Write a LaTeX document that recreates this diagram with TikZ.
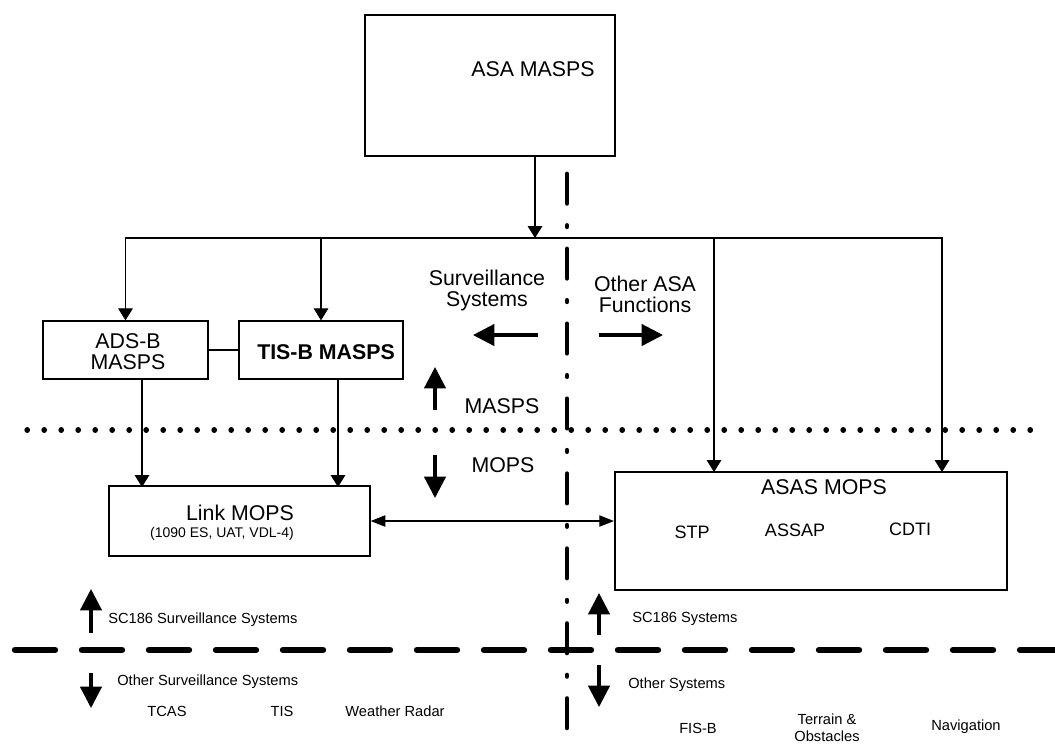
\documentclass[tikz,border=0pt]{standalone}
\usepackage{fontspec}
\setmainfont{Liberation Sans}
\usetikzlibrary{arrows.meta}
\tikzset{
  boxnode/.style={draw, line width=1pt, inner sep=0pt},
  conn/.style={line width=0.8pt, -{Triangle[width=11pt,length=9pt]}},
  dconn/.style={line width=0.8pt, {Triangle[width=8.5pt,length=11pt]}-{Triangle[width=8.5pt,length=11pt]}},
  bigarrow/.style={line width=2.4pt, -{Triangle[width=16pt,length=16pt]}},
  biglabel/.style={font=\fontsize{16}{15.75}\selectfont, align=center, inner sep=0pt},
  midlabel/.style={font=\fontsize{13.5}{15}\selectfont, inner sep=0pt},
  smalllabel/.style={font=\fontsize{11}{12.75}\selectfont, align=center, inner sep=0pt},
}
\begin{document}
\begin{tikzpicture}[x=0.75pt,y=-0.75pt]
\useasboundingbox (0,0) rectangle (1055,744);
\fill[white] (0,0) rectangle (1055,744);

% separator lines
\draw[line width=3.6pt, line cap=round, dash pattern=on 22pt off 16.6pt on 1pt off 16.6pt] (567,174) -- (567,744);
\draw[line width=4pt, line cap=round, dash pattern=on 0.3pt off 12.45pt] (27,430) -- (1035,430);
\draw[line width=4.8pt, line cap=round, dash pattern=on 30pt off 20.25pt] (15,650) -- (1055,650);

% boxes
\node[boxnode, minimum width=187.5pt, minimum height=105.75pt] (asa) at (490,85.5) {};
\node[biglabel] (asat) at (533,69) {ASA MASPS};
\node[boxnode, minimum width=123.75pt, minimum height=43.5pt] (adsb) at (125.5,350) {};
\node[biglabel, font=\fontsize{16}{15.75}\selectfont] (adsbt) at (128,352) {ADS-B\\MASPS};
\node[boxnode, minimum width=123pt, minimum height=43.5pt] (tisb) at (321,350) {};
\node[biglabel, font=\fontsize{16}{16}\selectfont\bfseries] (tisbt) at (326,352) {TIS-B MASPS};
\node[boxnode, minimum width=195.75pt, minimum height=52.5pt] (link) at (239.5,521) {};
\node[biglabel] (linkt) at (240,513) {Link MOPS};
\node[inner sep=0pt, font=\fontsize{10.5}{12}\selectfont] (links) at (222,534) {(1090 ES, UAT, VDL-4)};
\node[boxnode, line width=1.6pt, minimum width=294pt, minimum height=88.5pt] (asas) at (811,531) {};
\node[biglabel] (asast) at (824,487) {ASAS MOPS};
\node[midlabel] (stp) at (692,532) {STP};
\node[midlabel] (assap) at (795,530) {ASSAP};
\node[midlabel] (cdti) at (910,529) {CDTI};

% connectors
\coordinate (bus) at (535,238);
\coordinate (s1) at (714,472);
\coordinate (s2) at (942,472);
\coordinate (l1) at (142,487);
\coordinate (l2) at (338,487);
\draw[conn] (asa.south -| bus) -- (bus);
\draw[conn] (bus) -| (adsb.north);
\draw[conn] (bus) -| (tisb.north);
\draw[conn] (bus) -| (s1);
\draw[conn] (bus) -| (s2);
\draw[line width=0.8pt] (adsb.east) -- (adsb.east -| tisb.west);
\draw[conn] (adsb.south -| l1) -- (l1);
\draw[conn] (tisb.south -| l2) -- (l2);
\draw[dconn] (link.east) -- (link.east -| asas.west);

% middle labels and arrows
\node[biglabel] (surv) at (487,290) {Surveillance\\Systems};
\node[biglabel] (other) at (645,294) {Other ASA\\Functions};
\coordinate (la1) at (538,335); \coordinate (la2) at (473,335);
\coordinate (ra1) at (599,335); \coordinate (ra2) at (663,335);
\draw[bigarrow] (la1) -- (la2);
\draw[bigarrow] (ra1) -- (ra2);
\coordinate (ua1) at (435,410); \coordinate (ua2) at (435,367);
\coordinate (da1) at (435,455); \coordinate (da2) at (435,498);
\draw[bigarrow] (ua1) -- (ua2);
\draw[bigarrow] (da1) -- (da2);
\node[biglabel] (masps) at (502,406) {MASPS};
\node[biglabel] (mops) at (503,465) {MOPS};

% bottom left
\coordinate (bu1) at (91,633); \coordinate (bu2) at (91,589);
\coordinate (bd1) at (91,673); \coordinate (bd2) at (91,708);
\draw[bigarrow] (bu1) -- (bu2);
\draw[bigarrow] (bd1) -- (bd2);
\node[smalllabel, anchor=west] (sc1) at (108,620) {SC186 Surveillance Systems};
\node[smalllabel, anchor=west] (os1) at (117,682) {Other Surveillance Systems};
\node[smalllabel] (tcas) at (167,711) {TCAS};
\node[smalllabel] (tis) at (282,711) {TIS};
\node[smalllabel] (wr) at (395,711) {Weather Radar};

% bottom right
\coordinate (cu1) at (599,635); \coordinate (cu2) at (599,593);
\coordinate (cd1) at (599,665); \coordinate (cd2) at (599,707);
\draw[bigarrow] (cu1) -- (cu2);
\draw[bigarrow] (cd1) -- (cd2);
\node[smalllabel, anchor=west] (sc2) at (632,619) {SC186 Systems};
\node[smalllabel, anchor=west] (os2) at (628,685) {Other Systems};
\node[smalllabel] (fisb) at (698,728) {FIS-B};
\node[smalllabel] (terr) at (827,728) {Terrain \&\\Obstacles};
\node[smalllabel] (nav) at (966,727) {Navigation};
\end{tikzpicture}
\end{document}
